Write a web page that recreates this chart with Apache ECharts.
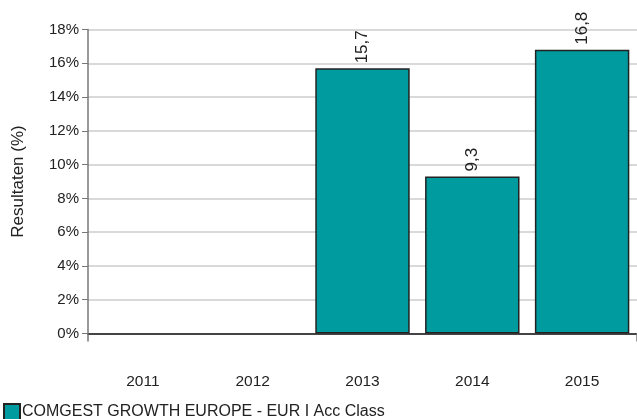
<!DOCTYPE html>
<html><head><meta charset="utf-8">
<script src="https://cdn.jsdelivr.net/npm/echarts@6/dist/echarts.min.js"></script>
<style>html,body{margin:0;padding:0;background:#fff}#c{width:637px;height:419px}</style>
</head><body><div id="c"></div>
<script>
const categories = ['2011','2012','2013','2014','2015'];
const values = [null, null, 15.7, 9.3, 16.8];
const seriesName = 'COMGEST GROWTH EUROPE - EUR I Acc Class';
const yTicks = [0, 2, 4, 6, 8, 10, 12, 14, 16, 18];

const chart = echarts.init(document.getElementById('c'), null, {renderer: 'canvas'});
const font = '"Liberation Sans", Arial, sans-serif';
chart.setOption({
  animation: false,
  textStyle: {fontFamily: font},
  grid: {left: 88, right: -3, top: 29.5, bottom: 85.5, containLabel: false},
  legend: {
    left: 3, top: 403, itemWidth: 16, itemHeight: 16, itemGap: 4, icon: 'rect',
    padding: 0,
    textStyle: {fontSize: 16, color: '#222', fontFamily: font, padding: [0,0,0,-3]},
    data: [seriesName]
  },
  xAxis: {
    type: 'category', data: categories,
    axisLine: {lineStyle: {color: '#444', width: 2}},
    axisTick: {show: true, length: 8, interval: function(i){return i===0;}, lineStyle: {color: '#777', width: 1.5}},
    axisLabel: {color: '#222', fontSize: 15.5, margin: 40, fontFamily: font}
  },
  yAxis: {
    type: 'value', min: yTicks[0], max: yTicks[yTicks.length-1], interval: 2,
    name: 'Resultaten (%)', nameLocation: 'middle', nameGap: 61, nameRotate: 90,
    nameTextStyle: {fontSize: 17, color: '#222', fontFamily: font},
    axisLine: {show: true, lineStyle: {color: '#777', width: 1.5}},
    axisTick: {show: true, length: 6, lineStyle: {color: '#777'}},
    axisLabel: {formatter: '{value}%', color: '#222', fontSize: 15, margin: 9, fontFamily: font},
    splitLine: {lineStyle: {color: '#ccc', width: 1.5}}
  },
  series: [{
    name: seriesName, type: 'bar', data: values, barWidth: '86%',
    itemStyle: {color: '#009B9F', borderColor: '#222', borderWidth: 1.5},
    label: {
      show: true, position: 'top', rotate: 90, align: 'left', verticalAlign: 'middle', distance: 5,
      color: '#222', fontSize: 17, fontFamily: font,
      formatter: p => p.value == null ? '' : String(p.value).replace('.', ',')
    }
  }]
});
</script></body></html>
